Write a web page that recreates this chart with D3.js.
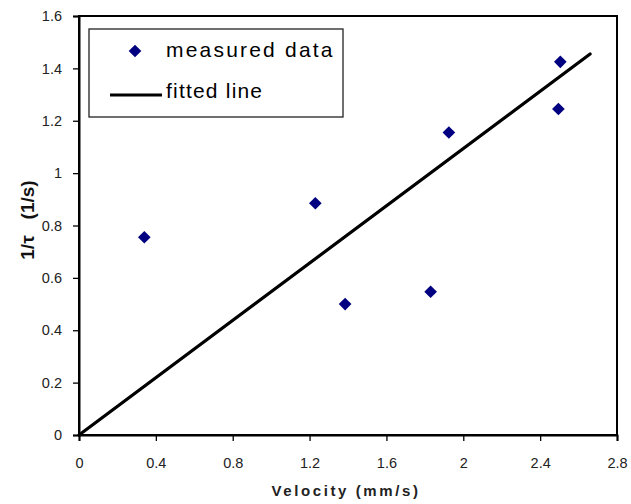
<!DOCTYPE html>
<html><head><meta charset="utf-8">
<script src="https://cdn.jsdelivr.net/npm/d3@7"></script>
<style>
html,body{margin:0;padding:0;background:#fff;}
svg{display:block;font-family:Arial,"Liberation Sans",sans-serif;}
</style></head>
<body>
<svg id="chart" width="631" height="504"></svg>
<script>
// data
const velocity = [0.34, 1.23, 1.385, 1.83, 1.925, 2.505, 2.495];
const invTau   = [0.755, 0.885, 0.50, 0.547, 1.155, 1.425, 1.245];
const fitX = [0, 2.66];
const fitY = [0, 1.455];
const xTicks = [0, 0.4, 0.8, 1.2, 1.6, 2, 2.4, 2.8];
const yTicks = [0, 0.2, 0.4, 0.6, 0.8, 1, 1.2, 1.4, 1.6];
const xTitle = "Velocity (mm/s)";
const legendLabels = ["measured data", "fitted line"];

const svg = d3.select("#chart");
const x = d3.scaleLinear().domain([0, 2.8]).range([79, 617]);
const y = d3.scaleLinear().domain([0, 1.6]).range([435, 16]);
const fmt = d => String(+d.toFixed(1));

// plot frame
svg.append("rect").attr("x", x(0)).attr("y", y(1.6))
  .attr("width", x(2.8) - x(0)).attr("height", y(0) - y(1.6))
  .attr("fill", "none").attr("stroke", "#000").attr("stroke-width", 2);

// axes
const xAxis = svg.append("g").attr("transform", `translate(0,${y(0)})`)
  .call(d3.axisBottom(x).tickValues(xTicks).tickFormat(fmt).tickSize(6).tickPadding(17));
const yAxis = svg.append("g").attr("transform", `translate(${x(0)},0)`)
  .call(d3.axisLeft(y).tickValues(yTicks).tickFormat(fmt).tickSize(6).tickPadding(11));
[xAxis, yAxis].forEach(g => {
  g.select(".domain").attr("stroke", "#000").attr("stroke-width", 2);
  g.selectAll(".tick line").attr("stroke", "#000").attr("stroke-width", 1.3);
  g.selectAll(".tick text").attr("font-size", 14.5).attr("fill", "#222")
    .attr("font-family", "Arial, 'Liberation Sans', sans-serif");
});

// fitted line
const fitData = fitX.map((v, i) => [v, fitY[i]]);
svg.append("path").datum(fitData)
  .attr("d", d3.line().x(d => x(d[0])).y(d => y(d[1])))
  .attr("fill", "none").attr("stroke", "#000").attr("stroke-width", 3.2)
  .attr("stroke-linecap", "round");

// points
const diamond = d3.symbol().type(d3.symbolSquare).size(80);
svg.append("g").selectAll("path").data(velocity.map((v, i) => [v, invTau[i]]))
  .join("path")
  .attr("d", diamond)
  .attr("transform", d => `translate(${x(d[0])},${y(d[1])}) rotate(45)`)
  .attr("fill", "#000080");

// legend
const lg = svg.append("g");
lg.append("rect").attr("x", 89).attr("y", 29).attr("width", 254).attr("height", 88)
  .attr("fill", "#fff").attr("stroke", "#222").attr("stroke-width", 1.3);
lg.append("path").attr("d", diamond)
  .attr("transform", "translate(135,51) rotate(45)").attr("fill", "#000080");
lg.append("line").attr("x1", 110).attr("x2", 162).attr("y1", 95).attr("y2", 95)
  .attr("stroke", "#000").attr("stroke-width", 3.2);
lg.append("text").attr("x", 166).attr("y", 57).text(legendLabels[0])
  .attr("font-size", 21).attr("letter-spacing", 2.2).attr("fill", "#000");
lg.append("text").attr("x", 166).attr("y", 98).text(legendLabels[1])
  .attr("font-size", 21).attr("letter-spacing", 1.2).attr("fill", "#000");

// axis titles
svg.append("text").attr("x", 346).attr("y", 496).attr("text-anchor", "middle")
  .attr("font-size", 15).attr("font-weight", "bold").attr("letter-spacing", 2.6)
  .attr("fill", "#222").text(xTitle);
const yt = svg.append("text").attr("transform", "translate(34,220) rotate(-90)")
  .attr("text-anchor", "middle").attr("font-size", 19).attr("font-weight", "bold")
  .attr("fill", "#111");
yt.append("tspan").text("1/τ");
yt.append("tspan").attr("dx", 16).text("(1/s)");
</script>
</body></html>
